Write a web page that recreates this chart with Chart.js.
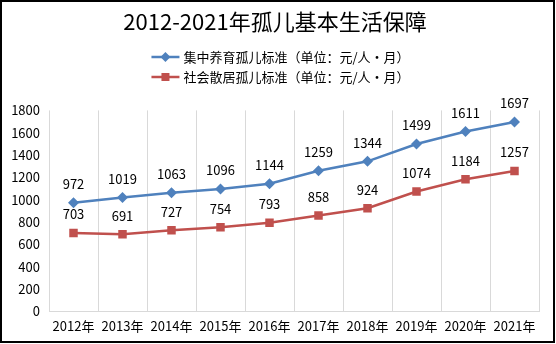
<!DOCTYPE html>
<html>
<head>
<meta charset="utf-8">
<script src="https://cdn.jsdelivr.net/npm/chart.js@4/dist/chart.umd.min.js"></script>
<style>
  body { margin: 0; background: #fff; }
  #box { position: absolute; left: 0; top: 0; width: 555px; height: 343px; box-sizing: border-box; border: 2px solid #000; }
</style>
</head>
<body>
<div id="box"><canvas id="chart1"></canvas></div>
<script>
const blueColor = "#4F81BD"
const redColor = "#C0504D"
const fontName = "'Noto Sans CJK SC', 'Noto Sans', sans-serif"

const titleText = "2012-2021年孤儿基本生活保障";
const years = ["2012年","2013年","2014年","2015年","2016年","2017年","2018年","2019年","2020年","2021年"];
const label1 = "集中养育孤儿标准（单位：元/人·月）";
const label2 = "社会散居孤儿标准（单位：元/人·月）";
const data1 = [972,1019,1063,1096,1144,1259,1344,1499,1611,1697];
const data2 = [703,691,727,754,793,858,924,1074,1184,1257];

// numbers above each point
const valueLabels = {
    id: 'valueLabels',
    afterDatasetsDraw(chart) {
        const ctx = chart.ctx;
        ctx.save();
        ctx.font = "13px " + fontName;
        ctx.fillStyle = "#000";
        ctx.textAlign = "center";
        ctx.textBaseline = "middle";
        chart.data.datasets.forEach((ds, i) => {
            chart.getDatasetMeta(i).data.forEach((pt, j) => {
                ctx.fillText(ds.data[j], pt.x, pt.y - 18.5);
            });
        });
        ctx.restore();
    }
};

// two legend rows stacked under the title
const stackedLegend = {
    id: 'stackedLegend',
    afterDraw(chart) {
        const ctx = chart.ctx;
        ctx.save();
        ctx.font = "13px " + fontName;
        const rows = chart.data.datasets;
        const w = 28 + 4 + Math.max(...rows.map(d => ctx.measureText(d.label).width));
        const x0 = chart.width / 2 - w / 2 + 3;
        rows.forEach((ds, i) => {
            const y = 55 + i * 20;
            ctx.strokeStyle = ds.borderColor;
            ctx.lineWidth = 2.5;
            ctx.beginPath();
            ctx.moveTo(x0, y);
            ctx.lineTo(x0 + 28, y);
            ctx.stroke();
            ctx.fillStyle = ds.backgroundColor;
            if (ds.pointStyle === 'rectRot') {
                ctx.beginPath();
                ctx.moveTo(x0 + 14, y - 5);
                ctx.lineTo(x0 + 19, y);
                ctx.lineTo(x0 + 14, y + 5);
                ctx.lineTo(x0 + 9, y);
                ctx.closePath();
                ctx.fill();
            } else {
                ctx.fillRect(x0 + 10, y - 4, 8, 8);
            }
            ctx.fillStyle = "#000";
            ctx.textAlign = "left";
            ctx.textBaseline = "middle";
            ctx.fillText(ds.label, x0 + 32, y);
        });
        ctx.restore();
    }
};

var ctx = document.getElementById('chart1').getContext('2d');
var chart = new Chart(ctx, {
    type: 'line',
    data: {
        labels: years,
        datasets: [{
            label: label1,
            data: data1,
            borderColor: blueColor,
            backgroundColor: blueColor,
            borderWidth: 2.5,
            pointStyle: 'rectRot',
            pointRadius: 5.5,
            pointBorderWidth: 0
        }, {
            label: label2,
            data: data2,
            borderColor: redColor,
            backgroundColor: redColor,
            borderWidth: 2.5,
            pointStyle: 'rect',
            pointRadius: 6,
            pointBorderWidth: 0
        }]
    },
    options: {
        responsive: true,
        maintainAspectRatio: false,
        animation: false,
        layout: { padding: { left: 9, right: 14, bottom: 0, top: 0 } },
        plugins: {
            legend: { display: false },
            tooltip: { enabled: false },
            title: {
                display: true,
                text: titleText,
                color: "#000",
                font: { family: fontName, size: 22, weight: 'normal' },
                padding: { top: 6, bottom: 76 }
            }
        },
        scales: {
            x: {
                offset: true,
                grid: { display: true, offset: true, color: "#D9D9D9", drawTicks: false },
                border: { color: "#D9D9D9" },
                ticks: { color: "#000", padding: 7, font: { family: fontName, size: 13 } }
            },
            y: {
                min: 0,
                max: 1800,
                ticks: {
                    stepSize: 200,
                    color: "#000",
                    padding: 9,
                    font: { family: fontName, size: 13 },
                    callback: (v) => String(v)
                },
                grid: { display: false, drawTicks: false },
                border: { display: false },
                afterFit: (s) => { s.width = 38; }
            }
        }
    },
    plugins: [valueLabels, stackedLegend]
});
</script>
</body>
</html>
